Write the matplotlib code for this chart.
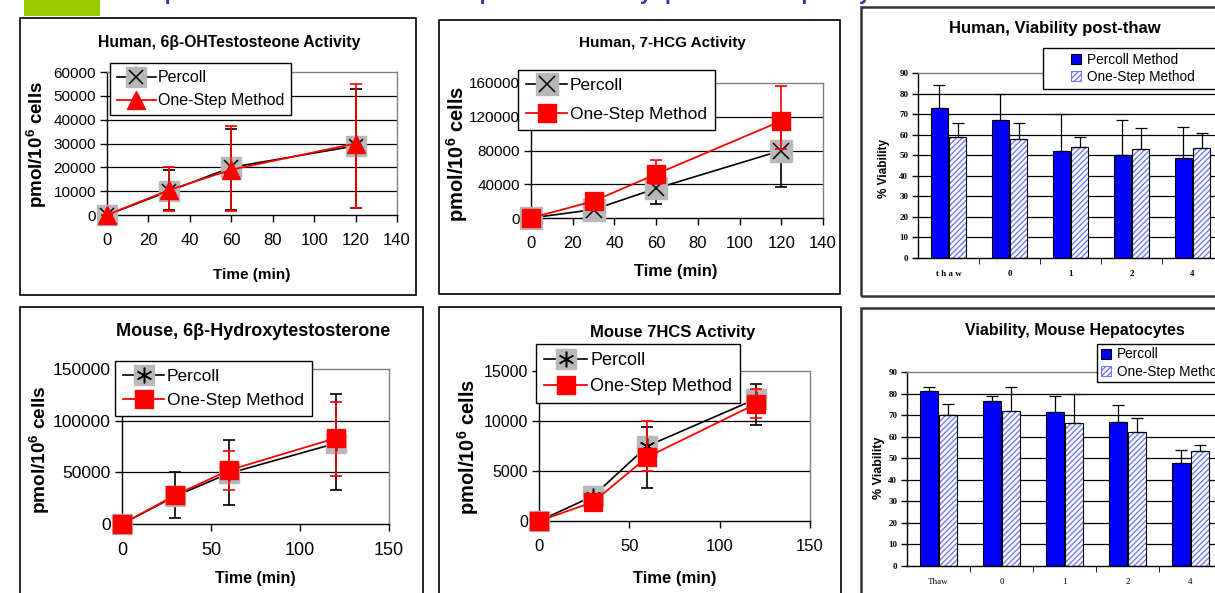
import numpy as np
import matplotlib
matplotlib.use('Agg')
import matplotlib.pyplot as plt
from matplotlib.patches import Rectangle, Patch
from matplotlib.lines import Line2D

plt.rcParams['font.family'] = ['Liberation Sans', 'DejaVu Sans']
plt.rcParams['mathtext.fontset'] = 'custom'
plt.rcParams['mathtext.rm'] = 'Liberation Sans'
plt.rcParams['mathtext.bf'] = 'Liberation Sans:bold'
plt.rcParams['hatch.linewidth'] = 1.0
plt.rcParams['legend.handleheight'] = 0.7

# ---- data ----
time_min = [0, 30, 60, 120]

# Human 6b-OH testosterone
h6b_percoll = [0, 10000, 20000, 29000]
h6b_percoll_lo = [0, 2000, 2000, 3000]
h6b_percoll_hi = [0, 19000, 36000, 53000]
h6b_onestep = [0, 10500, 19000, 30000]
h6b_onestep_lo = [0, 1500, 1500, 3000]
h6b_onestep_hi = [0, 20000, 37500, 55000]

# Human 7-HCG
h7_percoll = [0, 10000, 35000, 80000]
h7_percoll_lo = [0, 5000, 17000, 37000]
h7_percoll_hi = [0, 15000, 50000, 118000]
h7_onestep = [0, 20000, 52000, 115000]
h7_onestep_lo = [0, 16000, 40000, 82000]
h7_onestep_hi = [0, 24000, 69000, 157000]

# Mouse 6b-hydroxytestosterone
m6b_percoll = [0, 27000, 49000, 78000]
m6b_percoll_lo = [0, 6000, 18000, 33000]
m6b_percoll_hi = [0, 50000, 81000, 126000]
m6b_onestep = [0, 28000, 52000, 83000]
m6b_onestep_lo = [0, 20000, 33000, 46500]
m6b_onestep_hi = [0, 36000, 71000, 118000]

# Mouse 7HCS
m7_percoll = [0, 2500, 7500, 12200]
m7_percoll_lo = [0, 2200, 3300, 9600]
m7_percoll_hi = [0, 2800, 9400, 13700]
m7_onestep = [0, 1900, 6400, 11700]
m7_onestep_lo = [0, 1600, 5000, 10300]
m7_onestep_hi = [0, 2200, 10000, 13200]

# viability
hv_cats = ['t h a w', '0', '1', '2', '4']
hv_percoll = [73, 67, 52, 50, 48.5]
hv_percoll_top = [84, 80, 70, 67, 63.5]
hv_onestep = [59, 58, 54, 53, 53.5]
hv_onestep_top = [65.5, 65.5, 59, 63, 61]

mv_cats = ['Thaw', '0', '1', '2', '4']
mv_percoll = [81, 76.5, 71.5, 67, 48]
mv_percoll_top = [83, 79, 79, 74.5, 54]
mv_onestep = [70, 72, 66.5, 62, 53.5]
mv_onestep_top = [75, 83, 80, 68.5, 56]

W, H = 1215, 593
fig = plt.figure(figsize=(W / 100, H / 100), dpi=100)


def box(x0, y0, x1, y1):
    return [x0 / W, 1 - y1 / H, (x1 - x0) / W, (y1 - y0) / H]


def ftext(x, y, s, **kw):
    fig.text(x / W, 1 - y / H, s, **kw)


def frame(x0, y0, x1, y1, lw=1.2, ec='black', fc=None, z=1):
    fig.add_artist(Rectangle((x0 / W, 1 - y1 / H), (x1 - x0) / W, (y1 - y0) / H,
                             transform=fig.transFigure, fill=fc is not None, fc=fc or 'none',
                             ec=ec, lw=lw, zorder=z))


def excel_axes(ax):
    for s in ['left', 'bottom']:
        ax.spines[s].set_color('black')
        ax.spines[s].set_linewidth(1.0)
    for s in ['top', 'right']:
        ax.spines[s].set_color('#808080')
        ax.spines[s].set_linewidth(1.0)
    ax.tick_params(direction='out', length=5, width=1, color='black')


def line_panel(pos, xlim, xticks, ylim, yticks, x, perc, plo, phi, one, olo, ohi,
               pmark, omark, xfs, yfs, leg_pos, leg_fs, msize, lspace=0.5):
    ax = fig.add_axes(box(*pos))
    excel_axes(ax)
    ax.set_xlim(*xlim)
    ax.set_ylim(*ylim)
    ax.set_xticks(xticks)
    ax.set_yticks(yticks)
    ax.tick_params(axis='x', labelsize=xfs, pad=8)
    ax.tick_params(axis='y', labelsize=yfs, pad=3)
    for yv in yticks[1:-1]:
        ax.axhline(yv, color='black', lw=0.9, zorder=0)
    x = np.array(x)
    perc, one = np.array(perc), np.array(one)
    ax.errorbar(x, perc, yerr=[perc - np.array(plo), np.array(phi) - perc], fmt='none',
                ecolor='black', elinewidth=1.2, capsize=4, capthick=1.2, zorder=2, clip_on=False)
    ax.plot(x, perc, color='black', lw=1.2, zorder=3, clip_on=False)
    ax.plot(x, perc, ls='none', marker='s', ms=msize, color='#b8b8b8', mec='#b8b8b8', zorder=4, clip_on=False)
    ax.plot(x, perc, ls='none', marker=pmark, ms=msize * 0.75, color='black', mew=1.1, zorder=5, clip_on=False)
    ax.errorbar(x, one, yerr=[one - np.array(olo), np.array(ohi) - one], fmt='none',
                ecolor='red', elinewidth=1.2, capsize=4, capthick=1.2, zorder=6, clip_on=False)
    ax.plot(x, one, color='red', lw=1.3, zorder=7, clip_on=False)
    osz = msize * (0.95 if omark == '^' else 0.85)
    ax.plot(x, one, ls='none', marker=omark, ms=osz, color='red', mec='red', zorder=8, clip_on=False)

    h_perc = (Line2D([], [], color='black', lw=1.2),
              Line2D([], [], ls='none', marker='s', ms=msize, color='#b8b8b8'),
              Line2D([], [], ls='none', marker=pmark, ms=msize * 0.75, color='black', mew=1.1))
    h_one = Line2D([], [], color='red', lw=1.3, marker=omark, ms=osz, mec='red')
    lx, ly = leg_pos
    leg = fig.legend([h_perc, h_one], ['Percoll', 'One-Step Method'],
                     loc='upper left', bbox_to_anchor=(lx / W, 1 - ly / H),
                     fontsize=leg_fs, frameon=True, fancybox=False, edgecolor='black',
                     framealpha=1, handlelength=2.4, borderpad=0.45, labelspacing=lspace,
                     handletextpad=0.15, borderaxespad=0)
    leg.get_frame().set_linewidth(1.0)
    return ax


ylab = 'pmol/10$^{\\mathbf{6}}$ cells'

# ---- header (clipped at top) ----
fig.add_artist(Rectangle((24 / W, 1 - 16 / H), 76 / W, 16 / H, transform=fig.transFigure,
                         color='#99cc00', lw=0))
ftext(117, -0.5, 'Comparison of Percoll and One-Step Method for Cryopreserved Hepatocyte Culture',
      fontsize=15.5, fontweight='bold', color='#4b2b8c', va='baseline')

# ---- panel frames ----
frame(20, 18, 416, 295)
frame(439, 20, 840, 294)
frame(861, 7, 1225, 296, lw=1.8, ec='#333333')
frame(20, 307, 423, 600)
frame(439, 307, 841, 600)
frame(861, 308, 1225, 600, lw=1.8, ec='#333333')

# ---- panel 1 ----
ax1 = line_panel((107, 72, 397, 215), (0, 140), range(0, 141, 20), (0, 60000),
                 range(0, 60001, 10000), time_min, h6b_percoll, h6b_percoll_lo, h6b_percoll_hi,
                 h6b_onestep, h6b_onestep_lo, h6b_onestep_hi, 'x', '^', 12, 11, (110, 63), 11.5, 14)
ftext(229, 42, 'Human, 6β-OHTestosteone Activity', fontsize=11.3, fontweight='bold', ha='center', va='center')
ftext(252, 275, 'Time (min)', fontsize=11, fontweight='bold', ha='center', va='center')
ftext(37, 144, ylab, fontsize=13.5, fontweight='bold', ha='center', va='center', rotation=90)

# ---- panel 2 ----
ax2 = line_panel((531, 83, 823, 218), (0, 140), range(0, 141, 20), (0, 160000),
                 range(0, 160001, 40000), time_min, h7_percoll, h7_percoll_lo, h7_percoll_hi,
                 h7_onestep, h7_onestep_lo, h7_onestep_hi, 'x', 's', 12, 11, (518, 70), 12.5, 16, 0.8)
ftext(662, 43, 'Human, 7-HCG Activity', fontsize=11, fontweight='bold', ha='center', va='center')
ftext(676, 272, 'Time (min)', fontsize=12, fontweight='bold', ha='center', va='center')
ftext(457, 154, ylab, fontsize=14.5, fontweight='bold', ha='center', va='center', rotation=90)

# ---- panel 4 ----
ax4 = line_panel((122, 369, 389, 524), (0, 150), range(0, 151, 50), (0, 150000),
                 range(0, 150001, 50000), time_min, m6b_percoll, m6b_percoll_lo, m6b_percoll_hi,
                 m6b_onestep, m6b_onestep_lo, m6b_onestep_hi, (6, 2, 0), 's', 13, 12.5, (115, 361), 12.5, 15)
ftext(253, 332, 'Mouse, 6β-Hydroxytestosterone', fontsize=13, fontweight='bold', ha='center', va='center')
ftext(255, 579, 'Time (min)', fontsize=11.5, fontweight='bold', ha='center', va='center')
ftext(40, 450, ylab, fontsize=13.7, fontweight='bold', ha='center', va='center', rotation=90)

# ---- panel 5 ----
ax5 = line_panel((539, 371, 810, 521), (0, 150), range(0, 151, 50), (0, 15000),
                 range(0, 15001, 5000), time_min, m7_percoll, m7_percoll_lo, m7_percoll_hi,
                 m7_onestep, m7_onestep_lo, m7_onestep_hi, (6, 2, 0), 's', 12, 11.5, (536, 344), 13, 15)
ftext(673, 333, 'Mouse 7HCS Activity', fontsize=12, fontweight='bold', ha='center', va='center')
ftext(675, 578, 'Time (min)', fontsize=12, fontweight='bold', ha='center', va='center')
ftext(468, 447, ylab, fontsize=14.5, fontweight='bold', ha='center', va='center', rotation=90)


# ---- bar panels ----
def bar_panel(pos, cats, perc, ptop, one, otop, xlab_bold, labels, leg_box, leg_fs):
    ax = fig.add_axes(box(*pos))
    excel_axes(ax)
    n = len(cats)
    x = np.arange(n)
    ax.set_xlim(-0.5, n + 0.5)
    ax.set_ylim(0, 90)
    ax.set_yticks(range(0, 91, 10))
    for yv in range(10, 90, 10):
        ax.axhline(yv, color='black', lw=0.9, zorder=0)
    w = 0.29
    perc, one = np.array(perc), np.array(one)
    ax.bar(x - 0.15, perc, w, color='#0000ff', edgecolor='black', lw=0.8, zorder=2)
    ax.bar(x + 0.15, one, w, color='white', edgecolor='#6f7cf0', hatch='//////', lw=0, zorder=2)
    ax.bar(x + 0.15, one, w, fill=False, edgecolor='black', lw=0.8, zorder=3)
    ax.errorbar(x - 0.15, perc, yerr=[np.zeros(n), np.array(ptop) - perc], fmt='none',
                ecolor='black', elinewidth=0.9, capsize=4, capthick=0.9, zorder=4)
    ax.errorbar(x + 0.15, one, yerr=[np.zeros(n), np.array(otop) - one], fmt='none',
                ecolor='black', elinewidth=0.9, capsize=4, capthick=0.9, zorder=4)
    ax.set_xticks(x)
    ax.set_xticklabels(cats, family=['Liberation Serif'], fontsize=6.5,
                       fontweight='bold' if xlab_bold else 'normal')
    ax.set_xticks(np.arange(n + 1) + 0.5, minor=True)
    ax.tick_params(axis='x', which='major', length=0, pad=9)
    ax.tick_params(axis='x', which='minor', length=4, direction='out')
    ax.tick_params(axis='y', length=4, pad=3)
    for t in ax.get_yticklabels():
        t.set_family(['Liberation Serif'])
        t.set_fontsize(6.5)
        t.set_fontweight('bold')
    # legend: white box drawn separately, entries placed inside it
    bx0, by0, bx1, by1, hx = leg_box
    frame(bx0, by0, bx1, by1, lw=1.0, ec='black', fc='white', z=5)
    handles = [Patch(facecolor='#0000ff', edgecolor='black', lw=0.8),
               Patch(facecolor='white', edgecolor='#6f7cf0', hatch='//////', lw=0.8)]
    leg = fig.legend(handles, labels, loc='center left',
                     bbox_to_anchor=(hx / W, 1 - (by0 + by1) / 2 / H),
                     fontsize=leg_fs, frameon=False, handlelength=0.75, handleheight=0.75,
                     borderpad=0, labelspacing=0.25, handletextpad=0.4, borderaxespad=0)
    leg.set_zorder(6)
    return ax


ax3 = bar_panel((918, 73, 1284, 258), hv_cats, hv_percoll, hv_percoll_top, hv_onestep,
                hv_onestep_top, True, ['Percoll Method', 'One-Step Method'],
                (1043, 48, 1240, 89, 1071), 9.8)
ftext(1055, 29, 'Human, Viability post-thaw', fontsize=12, fontweight='bold', ha='center', va='center')
ftext(884, 168, '% Viability', fontsize=8.5, fontweight='bold', ha='center', va='center', rotation=90)

ax6 = bar_panel((907, 372, 1285, 566), mv_cats, mv_percoll, mv_percoll_top, mv_onestep,
                mv_onestep_top, False, ['Percoll', 'One-Step Method'],
                (1097, 344, 1240, 382, 1101), 9.8)
ftext(1075, 330, 'Viability, Mouse Hepatocytes', fontsize=11.5, fontweight='bold', ha='center', va='center')
ftext(879, 468, '% Viability', fontsize=9, fontweight='bold', ha='center', va='center', rotation=90)

fig.savefig('out.png', dpi=100)
